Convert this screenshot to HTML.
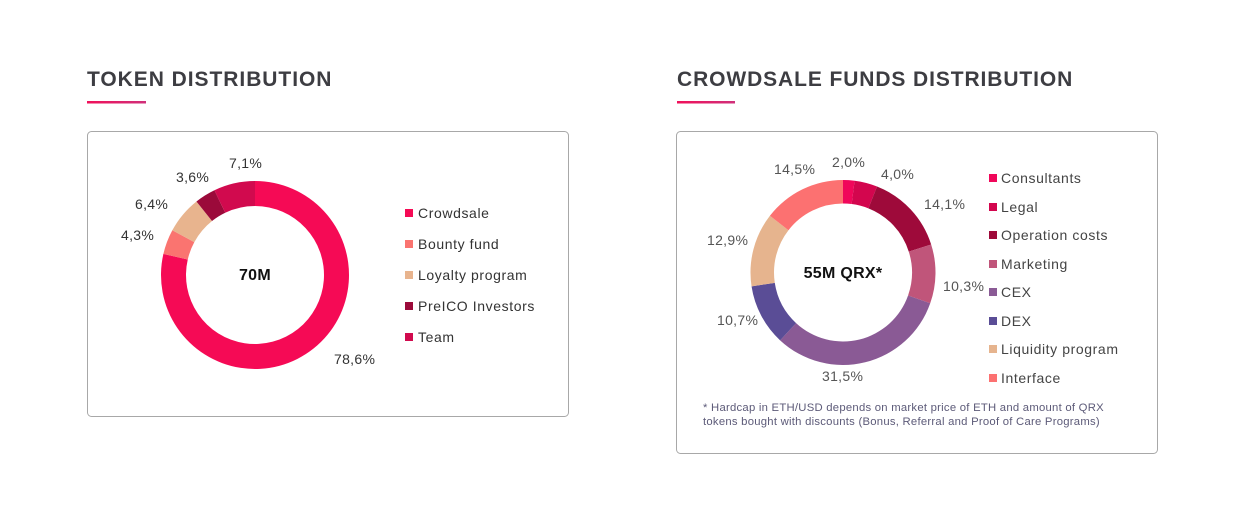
<!DOCTYPE html>
<html><head><meta charset="utf-8"><style>
html,body{margin:0;padding:0;background:#fff;}
svg{display:block;font-family:"Liberation Sans",sans-serif;}
</style></head><body>
<svg width="1254" height="514" viewBox="0 0 1254 514" xmlns="http://www.w3.org/2000/svg">
<defs><linearGradient id="g" x1="0" x2="1"><stop offset="0" stop-color="#f0105a"/><stop offset="1" stop-color="#d0307a"/></linearGradient></defs>
<text x="87" y="86" font-size="21" font-weight="bold" fill="#3d3d42" letter-spacing="0.95">TOKEN DISTRIBUTION</text>
<rect x="87" y="101" width="59" height="2.5" fill="url(#g)"/>
<text x="677" y="86" font-size="21" font-weight="bold" fill="#3d3d42" letter-spacing="0.9">CROWDSALE FUNDS DISTRIBUTION</text>
<rect x="677" y="101" width="58" height="2.5" fill="url(#g)"/>
<rect x="87.5" y="131.5" width="481" height="285" rx="4" fill="#fff" stroke="#a8a8a8"/>
<rect x="676.5" y="131.5" width="481" height="322" rx="4" fill="#fff" stroke="#a8a8a8"/>
<g id="d1"></g><g id="d2"></g>
<g font-size="14" fill="#333" letter-spacing="0.3">
<text x="255" y="280" text-anchor="middle" font-weight="bold" font-size="16" fill="#111">70M</text>
<text x="229" y="168">7,1%</text><text x="176" y="182">3,6%</text><text x="135" y="209">6,4%</text><text x="121" y="240">4,3%</text><text x="334" y="364">78,6%</text>
</g>
<g font-size="14" fill="#333" letter-spacing="0.6">
<rect x="405" y="209" width="8" height="8" fill="#f50a55"/><text x="418" y="218">Crowdsale</text>
<rect x="405" y="240" width="8" height="8" fill="#fa7470"/><text x="418" y="249">Bounty fund</text>
<rect x="405" y="271" width="8" height="8" fill="#e8b48e"/><text x="418" y="280">Loyalty program</text>
<rect x="405" y="302" width="8" height="8" fill="#9b0a3a"/><text x="418" y="311">PreICO Investors</text>
<rect x="405" y="333" width="8" height="8" fill="#d10a4e"/><text x="418" y="342">Team</text>
</g>
<g font-size="14" fill="#555" letter-spacing="0.3">
<text x="843" y="278" text-anchor="middle" font-weight="bold" font-size="16" fill="#111">55M QRX*</text>
<text x="832" y="167">2,0%</text><text x="881" y="179">4,0%</text><text x="924" y="209">14,1%</text><text x="943" y="291">10,3%</text>
<text x="822" y="381">31,5%</text><text x="717" y="325">10,7%</text><text x="707" y="245">12,9%</text><text x="774" y="174">14,5%</text>
</g>
<g font-size="14" fill="#444" letter-spacing="0.6">
<rect x="989" y="174" width="8" height="8" fill="#f0075a"/><text x="1001" y="183">Consultants</text>
<rect x="989" y="203" width="8" height="8" fill="#d3064e"/><text x="1001" y="212">Legal</text>
<rect x="989" y="231" width="8" height="8" fill="#9e0a3a"/><text x="1001" y="240">Operation costs</text>
<rect x="989" y="260" width="8" height="8" fill="#c0557a"/><text x="1001" y="269">Marketing</text>
<rect x="989" y="288" width="8" height="8" fill="#8a5a95"/><text x="1001" y="297">CEX</text>
<rect x="989" y="317" width="8" height="8" fill="#5a4d96"/><text x="1001" y="326">DEX</text>
<rect x="989" y="345" width="8" height="8" fill="#e6b48e"/><text x="1001" y="354">Liquidity program</text>
<rect x="989" y="374" width="8" height="8" fill="#fc7171"/><text x="1001" y="383">Interface</text>
</g>
<g font-size="11.3" fill="#5c5a78" letter-spacing="0.25">
<text x="703" y="411">* Hardcap in ETH/USD depends on market price of ETH and amount of QRX</text>
<text x="703" y="425">tokens bought with discounts (Bonus, Referral and Proof of Care Programs)</text>
</g>
</svg>
<script>
function donut(id,cx,cy,R,r,data){
 var g=document.getElementById(id),a=0,ns="http://www.w3.org/2000/svg";
 data.forEach(function(d){
  var a0=a/100*2*Math.PI,a1=(a+d[0])/100*2*Math.PI;a+=d[0];
  var L=(a1-a0)>Math.PI?1:0;
  function p(rr,t){return [cx+rr*Math.sin(t),cy-rr*Math.cos(t)];}
  var o0=p(R,a0),o1=p(R,a1),i1=p(r,a1),i0=p(r,a0);
  var path=document.createElementNS(ns,"path");
  path.setAttribute("d","M"+o0+" A"+R+","+R+" 0 "+L+" 1 "+o1+" L"+i1+" A"+r+","+r+" 0 "+L+" 0 "+i0+"Z");
  path.setAttribute("fill",d[1]);g.appendChild(path);
 });
}
donut("d1",255,275,94,69,[[78.6,"#f50a55"],[4.3,"#fa7470"],[6.4,"#e8b48e"],[3.6,"#9b0a3a"],[7.1,"#d10a4e"]]);
donut("d2",843,272.5,92.5,69,[[2,"#f0075a"],[4,"#d3064e"],[14.1,"#9e0a3a"],[10.3,"#c0557a"],[31.5,"#8a5a95"],[10.7,"#5a4d96"],[12.9,"#e6b48e"],[14.5,"#fc7171"]]);
</script>
</body></html>
